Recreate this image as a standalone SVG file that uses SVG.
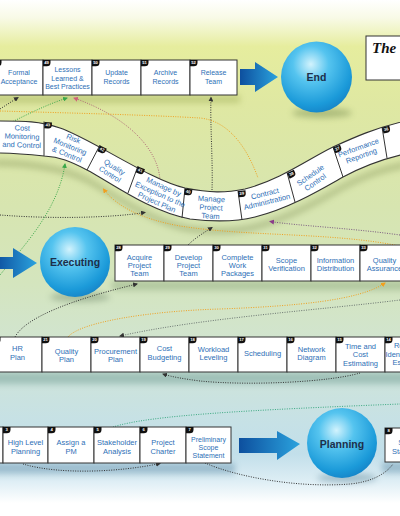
<svg xmlns="http://www.w3.org/2000/svg" width="400" height="516" viewBox="0 0 400 516">
<defs>
<linearGradient id="bg" x1="0" y1="0" x2="0" y2="516" gradientUnits="userSpaceOnUse">
<stop offset="0" stop-color="#ffffff"/>
<stop offset="0.035" stop-color="#f8fae6"/>
<stop offset="0.09" stop-color="#e6ed9e"/>
<stop offset="0.2" stop-color="#dfe8a2"/>
<stop offset="0.4" stop-color="#d7e5b0"/>
<stop offset="0.55" stop-color="#d4e5be"/>
<stop offset="0.7" stop-color="#d0e4d6"/>
<stop offset="0.82" stop-color="#c6e1e6"/>
<stop offset="0.88" stop-color="#c2dfea"/>
<stop offset="0.93" stop-color="#dcedf4"/>
<stop offset="0.975" stop-color="#ffffff"/>
<stop offset="1" stop-color="#ffffff"/>
</linearGradient>
<radialGradient id="ball" cx="0.42" cy="0.32" r="0.72">
<stop offset="0" stop-color="#d2f3fd"/>
<stop offset="0.35" stop-color="#55c4ef"/>
<stop offset="0.8" stop-color="#1b9ad9"/>
<stop offset="1" stop-color="#1582c6"/>
</radialGradient>
<linearGradient id="arr" x1="0" y1="0" x2="1" y2="0">
<stop offset="0" stop-color="#0d4f9e"/>
<stop offset="1" stop-color="#2ba3de"/>
</linearGradient>
<filter id="blur" x="-20%" y="-50%" width="140%" height="200%"><feGaussianBlur stdDeviation="3"/></filter>
<path id="badge" d="M0,0 H7.5 V2.8 Q7.5,6.3 3.8,6.3 H0 Z" fill="#111"/>
<marker id="mk" viewBox="0 0 10 10" refX="8" refY="5" markerWidth="5" markerHeight="5" markerUnits="userSpaceOnUse" orient="auto"><path d="M0,0 L10,5 L0,10 Z" fill="#333"/></marker>
<marker id="mg" viewBox="0 0 10 10" refX="8" refY="5" markerWidth="5" markerHeight="5" markerUnits="userSpaceOnUse" orient="auto"><path d="M0,0 L10,5 L0,10 Z" fill="#3aa84a"/></marker>
<marker id="mo" viewBox="0 0 10 10" refX="8" refY="5" markerWidth="5" markerHeight="5" markerUnits="userSpaceOnUse" orient="auto"><path d="M0,0 L10,5 L0,10 Z" fill="#f0a020"/></marker>
<marker id="mp" viewBox="0 0 10 10" refX="8" refY="5" markerWidth="5" markerHeight="5" markerUnits="userSpaceOnUse" orient="auto"><path d="M0,0 L10,5 L0,10 Z" fill="#d0607a"/></marker>
<marker id="mv" viewBox="0 0 10 10" refX="8" refY="5" markerWidth="5" markerHeight="5" markerUnits="userSpaceOnUse" orient="auto"><path d="M0,0 L10,5 L0,10 Z" fill="#8a3a8a"/></marker>
</defs>
<style>
.box{fill:#ffffff;stroke:#333;stroke-width:1}
.t{font-family:"Liberation Sans",Arial,sans-serif;font-size:7.5px;fill:#2e6fb6;text-anchor:middle}
.s{font-size:7px}
.num{font-family:"Liberation Sans",Arial,sans-serif;font-size:4.2px;font-weight:bold;fill:#fff;text-anchor:middle}
.ph{font-family:"Liberation Sans",Arial,sans-serif;font-size:10.5px;font-weight:bold;fill:#1d2f4a;text-anchor:middle}
.c{fill:none;stroke-width:1;stroke-dasharray:1 1.4}
.dk{stroke:#333}
.gr{stroke:#3aa84a}
.or{stroke:#f0a020}
.pk{stroke:#b06a78}
.pu{stroke:#7a5a80}
.gy{stroke:#6a7470}
.tl{stroke:#3aa880}
.sep{stroke:#333;stroke-width:1}
</style>
<rect x="0" y="0" width="400" height="516" fill="url(#bg)"/>

<g id="shadows" opacity="0.35" filter="url(#blur)">
<rect x="-10" y="95" width="250" height="8" fill="#8a9a40"/>
<rect x="112" y="281" width="300" height="9" fill="#6a8a60"/>
<rect x="-10" y="372" width="420" height="12" fill="#4a8078"/>
<rect x="-10" y="463" width="245" height="11" fill="#3a7090"/>
<rect x="382" y="462" width="30" height="11" fill="#3a7090"/>
<path d="M-5,160 C25,160 60,164 87,177 C110,189 150,219 190,226 C215,229 235,229 255,224 C290,215 320,197 343,184 C360,175 378,167 405,162 L405,168 C378,173 360,181 343,190 C320,203 290,221 255,230 C235,235 215,235 190,232 C150,225 110,195 87,183 C60,170 25,166 -5,166 Z" fill="#6a7a40"/>
<ellipse cx="322" cy="113" rx="30" ry="5" fill="#506a30"/>
<ellipse cx="80" cy="297" rx="30" ry="5" fill="#506a50"/>
<ellipse cx="347" cy="478" rx="30" ry="5" fill="#3a6a80"/>
</g>

<g id="connectors">
<path class="c dk" d="M0,109 L18,97.5" marker-end="url(#mk)"/>
<path class="c gr" d="M0,128 C20,118 45,105 67,98" marker-end="url(#mg)"/>
<path class="c pk" d="M160,180 C158,150 130,118 74,98" marker-end="url(#mp)"/>
<path class="c or" d="M0,111 C70,113 150,115 200,118 C230,121 248,150 258,178"/>
<path class="c dk" d="M212,190 C213,160 210,125 211,97.5" marker-end="url(#mk)"/>
<path class="c dk" d="M0,215 C50,219 110,218 145,212.5" marker-end="url(#mk)"/>
<path class="c gr" d="M0,275 C20,250 58,212 65,164" marker-end="url(#mg)"/>
<path class="c or" d="M400,246 C330,232 250,237 180,226 C140,219 115,205 103.5,189" marker-end="url(#mo)"/>
<path class="c pu" d="M400,235 C350,228 300,226 270,221.5" marker-end="url(#mv)"/>
<path class="c dk" d="M188,245 C195,238 205,232 212,227.5" marker-end="url(#mk)"/>
<path class="c dk" d="M15,337 C25,318 70,300 137,284" marker-end="url(#mk)"/>
<path class="c or" d="M68,337 C80,322 150,311 220,309 C300,306 360,300 385,283" marker-end="url(#mo)"/>
<path class="c gy" d="M400,300 C320,310 200,318 120,336" marker-end="url(#mk)"/>
<path class="c dk" d="M360,373 C330,382 250,386 200,381 C185,379 172,377 163,374" marker-end="url(#mk)"/>
<path class="c tl" d="M113,427 C150,415 250,410 400,404"/>
<path class="c dk" d="M23,464 C60,475 120,472 160,463.5" marker-end="url(#mk)"/>
<path class="c dk" d="M205,463 C240,478 300,488 350,484 C370,482 385,475 393,464"/>
</g>

<g id="wave-band">
<path d="M-5,121 C25,121 40,121 60,128 C90,138 150,180 185,188 C210,193 225,193 245,189 C280,180 310,158 333,147 C355,137 375,128 405,121 L405,154 C378,160 360,168 343,177 C320,190 290,208 255,217 C235,222 215,222 190,219 C150,212 110,182 87,170 C70,161 60,157 44,156 C25,154 10,153 -5,153 Z" fill="#fff" stroke="#333" stroke-width="1.1"/>
<line class="sep" x1="44" y1="121.5" x2="44" y2="156"/>
<line class="sep" x1="100" y1="145" x2="87" y2="170"/>
<line class="sep" x1="138" y1="166" x2="128" y2="193"/>
<line class="sep" x1="185" y1="188" x2="182" y2="218"/>
<line class="sep" x1="238" y1="191" x2="242" y2="220"/>
<line class="sep" x1="287" y1="172.5" x2="295" y2="202"/>
<line class="sep" x1="333" y1="147" x2="343" y2="177"/>
<line class="sep" x1="382" y1="127" x2="387" y2="158"/>
</g>

<g id="n44"><text class="t" transform="translate(22,137) rotate(2)"><tspan x="0" y="-6.5">Cost</tspan><tspan x="0" y="2">Monitoring</tspan><tspan x="0" y="10.5">and Control</tspan></text></g>
<g id="n43"><use href="#badge" transform="translate(44.5,122) rotate(3)"/><text class="num" transform="translate(44.5,122) rotate(3)" x="3.6" y="4.2">43</text>
<text class="t" transform="translate(70,147) rotate(22)"><tspan x="0" y="-6.5">Risk</tspan><tspan x="0" y="2">Monitoring</tspan><tspan x="0" y="10.5">&amp; Control</tspan></text></g>
<g id="n42"><use href="#badge" transform="translate(100,145.5) rotate(25)"/><text class="num" transform="translate(100,145.5) rotate(25)" x="3.6" y="4.2">42</text>
<text class="t" transform="translate(112,171) rotate(32)"><tspan x="0" y="-2">Quality</tspan><tspan x="0" y="6.5">Control</tspan></text></g>
<g id="n41"><use href="#badge" transform="translate(138,166.5) rotate(22)"/><text class="num" transform="translate(138,166.5) rotate(22)" x="3.6" y="4.2">41</text>
<text class="t" transform="translate(160,195) rotate(24)"><tspan x="0" y="-6.5">Manage by</tspan><tspan x="0" y="2">Exception to the</tspan><tspan x="0" y="10.5">Project Plan</tspan></text></g>
<g id="n40"><use href="#badge" transform="translate(185,188.5) rotate(8)"/><text class="num" transform="translate(185,188.5) rotate(8)" x="3.6" y="4.2">40</text>
<text class="t" transform="translate(211,208) rotate(3)"><tspan x="0" y="-6.5">Manage</tspan><tspan x="0" y="2">Project</tspan><tspan x="0" y="10.5">Team</tspan></text></g>
<g id="n39"><use href="#badge" transform="translate(238,191) rotate(-5)"/><text class="num" transform="translate(238,191) rotate(-5)" x="3.6" y="4.2">39</text>
<text class="t" transform="translate(266,198) rotate(-14)"><tspan x="0" y="-2">Contract</tspan><tspan x="0" y="6.5">Administration</tspan></text></g>
<g id="n38"><use href="#badge" transform="translate(287,173) rotate(-25)"/><text class="num" transform="translate(287,173) rotate(-25)" x="3.6" y="4.2">38</text>
<text class="t" transform="translate(313,179) rotate(-35)"><tspan x="0" y="-2">Schedule</tspan><tspan x="0" y="6.5">Control</tspan></text></g>
<g id="n37"><use href="#badge" transform="translate(333,147.5) rotate(-22)"/><text class="num" transform="translate(333,147.5) rotate(-22)" x="3.6" y="4.2">37</text>
<text class="t" transform="translate(360,152) rotate(-20)"><tspan x="0" y="-2">Performance</tspan><tspan x="0" y="6.5">Reporting</tspan></text></g>
<g id="n36"><use href="#badge" transform="translate(382,127.5) rotate(-14)"/><text class="num" transform="translate(382,127.5) rotate(-14)" x="3.6" y="4.2">36</text></g>

<g id="n48"><rect class="box" x="-6" y="60" width="49" height="35"/><use href="#badge" x="-6" y="60"/><text class="t s" x="19" y="74.5">Formal<tspan x="19" y="83.5">Acceptance</tspan></text></g>
<g id="n49"><rect class="box" x="43" y="60" width="49" height="35"/><use href="#badge" x="43" y="60"/><text class="num" x="46.6" y="64.2">49</text><text class="t s" x="67.5" y="72">Lessons<tspan x="67.5" y="80.5">Learned &amp;</tspan><tspan x="67.5" y="89">Best Practices</tspan></text></g>
<g id="n50"><rect class="box" x="92" y="60" width="49" height="35"/><use href="#badge" x="92" y="60"/><text class="num" x="95.6" y="64.2">50</text><text class="t s" x="116.5" y="74.5">Update<tspan x="116.5" y="83.5">Records</tspan></text></g>
<g id="n51"><rect class="box" x="141" y="60" width="49" height="35"/><use href="#badge" x="141" y="60"/><text class="num" x="144.6" y="64.2">51</text><text class="t s" x="165.5" y="74.5">Archive<tspan x="165.5" y="83.5">Records</tspan></text></g>
<g id="n52"><rect class="box" x="190" y="60" width="47" height="35"/><use href="#badge" x="190" y="60"/><text class="num" x="193.6" y="64.2">52</text><text class="t s" x="213.5" y="74.5">Release<tspan x="213.5" y="83.5">Team</tspan></text></g>

<g id="arrow-end"><path d="M240,69 H255 V62 L278,77 L255,92 V85 H240 Z" fill="url(#arr)"/></g>
<g id="end"><circle cx="316.5" cy="77" r="35.5" fill="url(#ball)"/><text class="ph" x="316.5" y="80.5">End</text></g>
<g id="title"><rect x="366" y="36" width="40" height="44" fill="#fff" stroke="#333" stroke-width="1"/><text x="372" y="53" font-family="'Liberation Serif',serif" font-size="15" font-weight="bold" font-style="italic" fill="#111">The</text></g>

<g id="arrow-exec"><path d="M-5,257 H13 V248 L37,263 L13,278 V269 H-5 Z" fill="url(#arr)"/></g>
<g id="executing"><circle cx="75" cy="262" r="35" fill="url(#ball)"/><text class="ph" x="75" y="266">Executing</text></g>

<g id="n28"><rect class="box" x="115" y="245" width="49" height="36"/><use href="#badge" x="115" y="245"/><text class="num" x="118.6" y="249.2">28</text><text class="t" x="139.5" y="259.5">Acquire<tspan x="139.5" y="267.5">Project</tspan><tspan x="139.5" y="275.5">Team</tspan></text></g>
<g id="n29"><rect class="box" x="164" y="245" width="49" height="36"/><use href="#badge" x="164" y="245"/><text class="num" x="167.6" y="249.2">29</text><text class="t" x="188.5" y="259.5">Develop<tspan x="188.5" y="267.5">Project</tspan><tspan x="188.5" y="275.5">Team</tspan></text></g>
<g id="n30"><rect class="box" x="213" y="245" width="49" height="36"/><use href="#badge" x="213" y="245"/><text class="num" x="216.6" y="249.2">30</text><text class="t" x="237.5" y="259.5">Complete<tspan x="237.5" y="267.5">Work</tspan><tspan x="237.5" y="275.5">Packages</tspan></text></g>
<g id="n31"><rect class="box" x="262" y="245" width="49" height="36"/><use href="#badge" x="262" y="245"/><text class="num" x="265.6" y="249.2">31</text><text class="t" x="286.5" y="262.5">Scope<tspan x="286.5" y="270.5">Verification</tspan></text></g>
<g id="n32"><rect class="box" x="311" y="245" width="49" height="36"/><use href="#badge" x="311" y="245"/><text class="num" x="314.6" y="249.2">32</text><text class="t" x="335.5" y="262.5">Information<tspan x="335.5" y="270.5">Distribution</tspan></text></g>
<g id="n33"><rect class="box" x="360" y="245" width="49" height="36"/><use href="#badge" x="360" y="245"/><text class="num" x="363.6" y="249.2">33</text><text class="t" x="384.5" y="262.5">Quality<tspan x="384.5" y="270.5">Assurance</tspan></text></g>

<g id="n22"><rect class="box" x="-7" y="337" width="49" height="35"/><use href="#badge" x="-7" y="337"/><text class="t" x="17.5" y="350.5">HR<tspan x="17.5" y="359.5">Plan</tspan></text></g>
<g id="n21"><rect class="box" x="42" y="337" width="49" height="35"/><use href="#badge" x="42" y="337"/><text class="num" x="45.6" y="341.2">21</text><text class="t" x="66.5" y="353.5">Quality<tspan x="66.5" y="361.5">Plan</tspan></text></g>
<g id="n20"><rect class="box" x="91" y="337" width="49" height="35"/><use href="#badge" x="91" y="337"/><text class="num" x="94.6" y="341.2">20</text><text class="t" x="115.5" y="353.5">Procurement<tspan x="115.5" y="361.5">Plan</tspan></text></g>
<g id="n19"><rect class="box" x="140" y="337" width="49" height="35"/><use href="#badge" x="140" y="337"/><text class="num" x="143.6" y="341.2">19</text><text class="t" x="164.5" y="350.5">Cost<tspan x="164.5" y="359.5">Budgeting</tspan></text></g>
<g id="n18"><rect class="box" x="189" y="337" width="49" height="35"/><use href="#badge" x="189" y="337"/><text class="num" x="192.6" y="341.2">18</text><text class="t" x="213.5" y="351.5">Workload<tspan x="213.5" y="360">Leveling</tspan></text></g>
<g id="n17"><rect class="box" x="238" y="337" width="49" height="35"/><use href="#badge" x="238" y="337"/><text class="num" x="241.6" y="341.2">17</text><text class="t" x="262.5" y="355.5">Scheduling</text></g>
<g id="n16"><rect class="box" x="287" y="337" width="49" height="35"/><use href="#badge" x="287" y="337"/><text class="num" x="290.6" y="341.2">16</text><text class="t" x="311.5" y="351.5">Network<tspan x="311.5" y="360">Diagram</tspan></text></g>
<g id="n15"><rect class="box" x="336" y="337" width="49" height="35"/><use href="#badge" x="336" y="337"/><text class="num" x="339.6" y="341.2">15</text><text class="t" x="360.5" y="348.5">Time and<tspan x="360.5" y="357">Cost</tspan><tspan x="360.5" y="365.5">Estimating</tspan></text></g>
<g id="n14"><rect class="box" x="385" y="337" width="49" height="35"/><use href="#badge" x="385" y="337"/><text class="num" x="388.6" y="341.2">14</text><text class="t" x="410" y="348">Resource<tspan x="410" y="356.5">Identification &amp;</tspan><tspan x="410" y="365">Estimating</tspan></text></g>

<g id="n2"><rect class="box" x="-43" y="427" width="46" height="36"/></g>
<g id="n3"><rect class="box" x="3" y="427" width="45" height="36"/><use href="#badge" x="3" y="427"/><text class="num" x="6.6" y="431.2">3</text><text class="t" x="25.5" y="445">High Level<tspan x="25.5" y="453.5">Planning</tspan></text></g>
<g id="n4"><rect class="box" x="48" y="427" width="46" height="36"/><use href="#badge" x="48" y="427"/><text class="num" x="51.6" y="431.2">4</text><text class="t" x="71" y="445">Assign a<tspan x="71" y="453.5">PM</tspan></text></g>
<g id="n5"><rect class="box" x="94" y="427" width="46" height="36"/><use href="#badge" x="94" y="427"/><text class="num" x="97.6" y="431.2">5</text><text class="t" x="117" y="445">Stakeholder<tspan x="117" y="453.5">Analysis</tspan></text></g>
<g id="n6"><rect class="box" x="140" y="427" width="46" height="36"/><use href="#badge" x="140" y="427"/><text class="num" x="143.6" y="431.2">6</text><text class="t" x="163" y="445">Project<tspan x="163" y="453.5">Charter</tspan></text></g>
<g id="n7"><rect class="box" x="186" y="427" width="45" height="36"/><use href="#badge" x="186" y="427"/><text class="num" x="189.6" y="431.2">7</text><text class="t s" x="208.5" y="441.5">Preliminary<tspan x="208.5" y="449.5">Scope</tspan><tspan x="208.5" y="457.5">Statement</tspan></text></g>

<g id="arrow-plan"><path d="M239,438 H277 V431 L300,444 L277,460 V453 H239 Z" fill="url(#arr)"/></g>
<g id="planning"><circle cx="342" cy="443" r="35" fill="url(#ball)"/><text class="ph" x="342" y="447.5">Planning</text></g>
<g id="n8"><rect class="box" x="385" y="428" width="46" height="34"/><use href="#badge" x="385" y="428"/><text class="num" x="388.6" y="432.2">8</text><text class="t" x="409" y="444.5">Scope<tspan x="409" y="453.5">Statement</tspan></text></g>
</svg>
